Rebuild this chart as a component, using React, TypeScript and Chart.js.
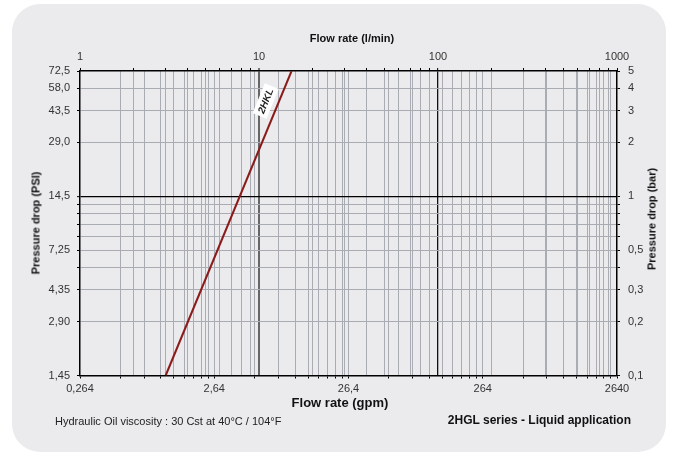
import React, { useEffect, useRef } from 'react';
import { Chart, registerables } from 'chart.js';

Chart.register(...registerables);

const FONT = '"Liberation Sans", Arial, Helvetica, sans-serif';

// Series (flow in l/min, pressure drop in bar)
const flowLpm = [3.01, 15.2];
const pressureBar = [0.1, 5.0];
const seriesLabel = '2HKL';
const labelPos = { lpm: 10.9, bar: 3.4 };

// Axis tick definitions
const minorSteps = [1, 2, 3, 4, 5, 6, 7, 8, 9];
const lpmDecades = [1, 10, 100];
const lpmEnd = 1000;
const lpmLabels = ['1', '10', '100', '1000'];
const gpmDecades = [0.264, 2.64, 26.4, 264];
const gpmEnd = 2640;
const gpmLabels = ['0,264', '2,64', '26,4', '264', '2640'];

const barTicks = [0.1, 0.2, 0.3, 0.4, 0.5, 0.6, 0.7, 0.8, 0.9, 1, 2, 3, 4, 5];
const barLabels = ['0,1', '0,2', '0,3', '', '0,5', '', '', '', '', '1', '2', '3', '4', '5'];
const psiTicks = [1.45, 2.9, 4.35, 5.8, 7.25, 8.7, 10.15, 11.6, 13.05, 14.5, 29, 43.5, 58, 72.5];
const psiLabels = ['1,45', '2,90', '4,35', '', '7,25', '', '', '', '', '14,5', '29,0', '43,5', '58,0', '72,5'];

const buildLog = (decades: number[], end: number) =>
  decades.flatMap((d) => minorSteps.map((s) => +(d * s).toPrecision(6))).concat([end]);

const lpmTicks = buildLog(lpmDecades, lpmEnd);
const gpmTicks = buildLog(gpmDecades, gpmEnd);

const GRID = '#a9acb3';
const TRANSPARENT = 'rgba(0,0,0,0)';
const TICK_FONT = { family: FONT, size: 11 };

export default function App() {
  const ref = useRef<HTMLCanvasElement | null>(null);

  useEffect(() => {
    if (!ref.current) return;

    const labelPlugin = {
      id: 'seriesLabel',
      afterDatasetsDraw(chart: any) {
        const { ctx, scales } = chart;
        const xs = scales.x2;
        const ys = scales.y2;
        const x0 = xs.getPixelForValue(flowLpm[0]);
        const y0 = ys.getPixelForValue(pressureBar[0]);
        const x1 = xs.getPixelForValue(flowLpm[flowLpm.length - 1]);
        const y1 = ys.getPixelForValue(pressureBar[pressureBar.length - 1]);
        const ang = Math.atan2(y1 - y0, x1 - x0);
        const cx = xs.getPixelForValue(labelPos.lpm);
        const cy = ys.getPixelForValue(labelPos.bar);
        ctx.save();
        ctx.translate(cx, cy);
        ctx.rotate(ang);
        ctx.fillStyle = '#ffffff';
        ctx.fillRect(-16, -7.5, 32, 15);
        ctx.fillStyle = '#222';
        ctx.font = `italic bold 10px ${FONT}`;
        ctx.textAlign = 'center';
        ctx.textBaseline = 'middle';
        ctx.fillText(seriesLabel, 0, 0.5);
        ctx.restore();
      },
    };

    const chart = new Chart(ref.current, {
      type: 'line',
      data: {
        datasets: [
          {
            label: seriesLabel,
            data: flowLpm.map((x, i) => ({ x, y: pressureBar[i] })),
            xAxisID: 'x2',
            yAxisID: 'y2',
            borderColor: '#8b1a1a',
            borderWidth: 2,
            pointRadius: 0,
            fill: false,
            tension: 0,
          },
        ],
      },
      options: {
        animation: false,
        responsive: false,
        maintainAspectRatio: false,
        layout: { padding: { left: 12, right: 5, top: 0, bottom: 39.5 } },
        plugins: { legend: { display: false }, tooltip: { enabled: false } },
        scales: {
          x: {
            type: 'logarithmic',
            position: 'bottom',
            min: gpmTicks[0],
            max: gpmEnd,
            afterBuildTicks: (s: any) => {
              s.ticks = gpmTicks.map((v) => ({ value: v }));
            },
            afterFit: (s: any) => {
              s.height = 40;
            },
            ticks: {
              autoSkip: false,
              maxRotation: 0,
              minRotation: 0,
              padding: 4,
              color: '#333',
              font: TICK_FONT,
              callback: (_v: any, i: number) => (i % 9 === 0 ? gpmLabels[i / 9] : ''),
            },
            grid: {
              color: (c: any) => (c.index === 0 || c.index === gpmTicks.length - 1 ? TRANSPARENT : GRID),
              lineWidth: 1,
              tickLength: 3,
              tickColor: '#000',
              tickWidth: 1,
            },
            border: { color: '#000', width: 1.5 },
          },
          x2: {
            type: 'logarithmic',
            position: 'top',
            min: lpmTicks[0],
            max: lpmEnd,
            afterBuildTicks: (s: any) => {
              s.ticks = lpmTicks.map((v) => ({ value: v }));
            },
            afterFit: (s: any) => {
              s.height = 71;
            },
            ticks: {
              autoSkip: false,
              maxRotation: 0,
              minRotation: 0,
              padding: 4,
              color: '#333',
              font: TICK_FONT,
              callback: (_v: any, i: number) => (i % 9 === 0 ? lpmLabels[i / 9] : ''),
            },
            grid: {
              color: (c: any) => {
                if (c.index === 0 || c.index === lpmTicks.length - 1) return TRANSPARENT;
                if (c.tick && c.tick.value === 10) return '#666';
                if (c.tick && c.tick.value === 100) return '#111';
                return GRID;
              },
              lineWidth: (c: any) => (c.tick && c.tick.value === 10 ? 2 : c.tick && c.tick.value === 100 ? 1.3 : 1),
              tickLength: 3,
              tickColor: '#000',
              tickWidth: 1,
            },
            border: { color: '#000', width: 1.5 },
          },
          y: {
            type: 'logarithmic',
            position: 'left',
            min: psiTicks[0],
            max: psiTicks[psiTicks.length - 1],
            afterBuildTicks: (s: any) => {
              s.ticks = psiTicks.map((v) => ({ value: v }));
            },
            afterFit: (s: any) => {
              s.width = 68;
            },
            ticks: {
              autoSkip: false,
              padding: 7,
              color: '#333',
              font: TICK_FONT,
              callback: (_v: any, i: number) => psiLabels[i],
            },
            grid: {
              color: (c: any) => {
                if (c.index === 0 || c.index === psiTicks.length - 1) return TRANSPARENT;
                if (c.tick && c.tick.value === 14.5) return '#000';
                return GRID;
              },
              lineWidth: (c: any) => (c.tick && c.tick.value === 14.5 ? 1.3 : 1),
              tickLength: 3,
              tickColor: '#000',
              tickWidth: 1,
            },
            border: { color: '#000', width: 1.5 },
          },
          y2: {
            type: 'logarithmic',
            position: 'right',
            min: barTicks[0],
            max: barTicks[barTicks.length - 1],
            afterBuildTicks: (s: any) => {
              s.ticks = barTicks.map((v) => ({ value: v }));
            },
            afterFit: (s: any) => {
              s.width = 51;
            },
            ticks: {
              autoSkip: false,
              padding: 8,
              color: '#333',
              font: TICK_FONT,
              callback: (_v: any, i: number) => barLabels[i],
            },
            grid: {
              drawOnChartArea: false,
              tickLength: 3,
              tickColor: '#000',
              tickWidth: 1,
            },
            border: { color: '#000', width: 1.5 },
          },
        },
      } as any,
      plugins: [labelPlugin],
    });

    return () => chart.destroy();
  }, []);

  const abs = (cx: number, cy: number, extra: any = {}, rotate = false): React.CSSProperties => ({
    position: 'absolute',
    left: cx,
    top: cy,
    transform: `translate(-50%, -50%)${rotate ? ' rotate(-90deg)' : ''}`,
    whiteSpace: 'nowrap',
    lineHeight: 1,
    fontFamily: FONT,
    color: '#111',
    ...extra,
  });

  return (
    <div style={{ position: 'fixed', left: 0, top: 0, width: 673, height: 455, background: '#ffffff', overflow: 'hidden' }}>
      <div
        style={{
          position: 'absolute',
          left: 12,
          top: 4,
          width: 654,
          height: 448,
          borderRadius: 28,
          background: '#ebebee',
        }}
      />
      <canvas ref={ref} width={673} height={455} style={{ position: 'absolute', left: 0, top: 0, width: 673, height: 455 }} />
      <div style={abs(352, 38, { fontSize: 11, fontWeight: 'bold' })}>Flow rate (l/min)</div>
      <div style={abs(340, 401.5, { fontSize: 13, fontWeight: 'bold' })}>Flow rate (gpm)</div>
      <div style={abs(35.5, 223, { fontSize: 11, fontWeight: 'bold' }, true)}>Pressure drop (PSI)</div>
      <div style={abs(652, 219, { fontSize: 11, fontWeight: 'bold' }, true)}>Pressure drop (bar)</div>
      <div
        style={{
          position: 'absolute',
          left: 55,
          top: 421,
          transform: 'translateY(-50%)',
          whiteSpace: 'nowrap',
          lineHeight: 1,
          fontFamily: FONT,
          fontSize: 11,
          color: '#222',
        }}
      >
        Hydraulic Oil viscosity : 30 Cst at 40°C / 104°F
      </div>
      <div
        style={{
          position: 'absolute',
          right: 673 - 631,
          top: 420,
          transform: 'translateY(-50%)',
          whiteSpace: 'nowrap',
          lineHeight: 1,
          fontFamily: FONT,
          fontSize: 12,
          fontWeight: 'bold',
          color: '#111',
        }}
      >
        2HGL series - Liquid application
      </div>
    </div>
  );
}
